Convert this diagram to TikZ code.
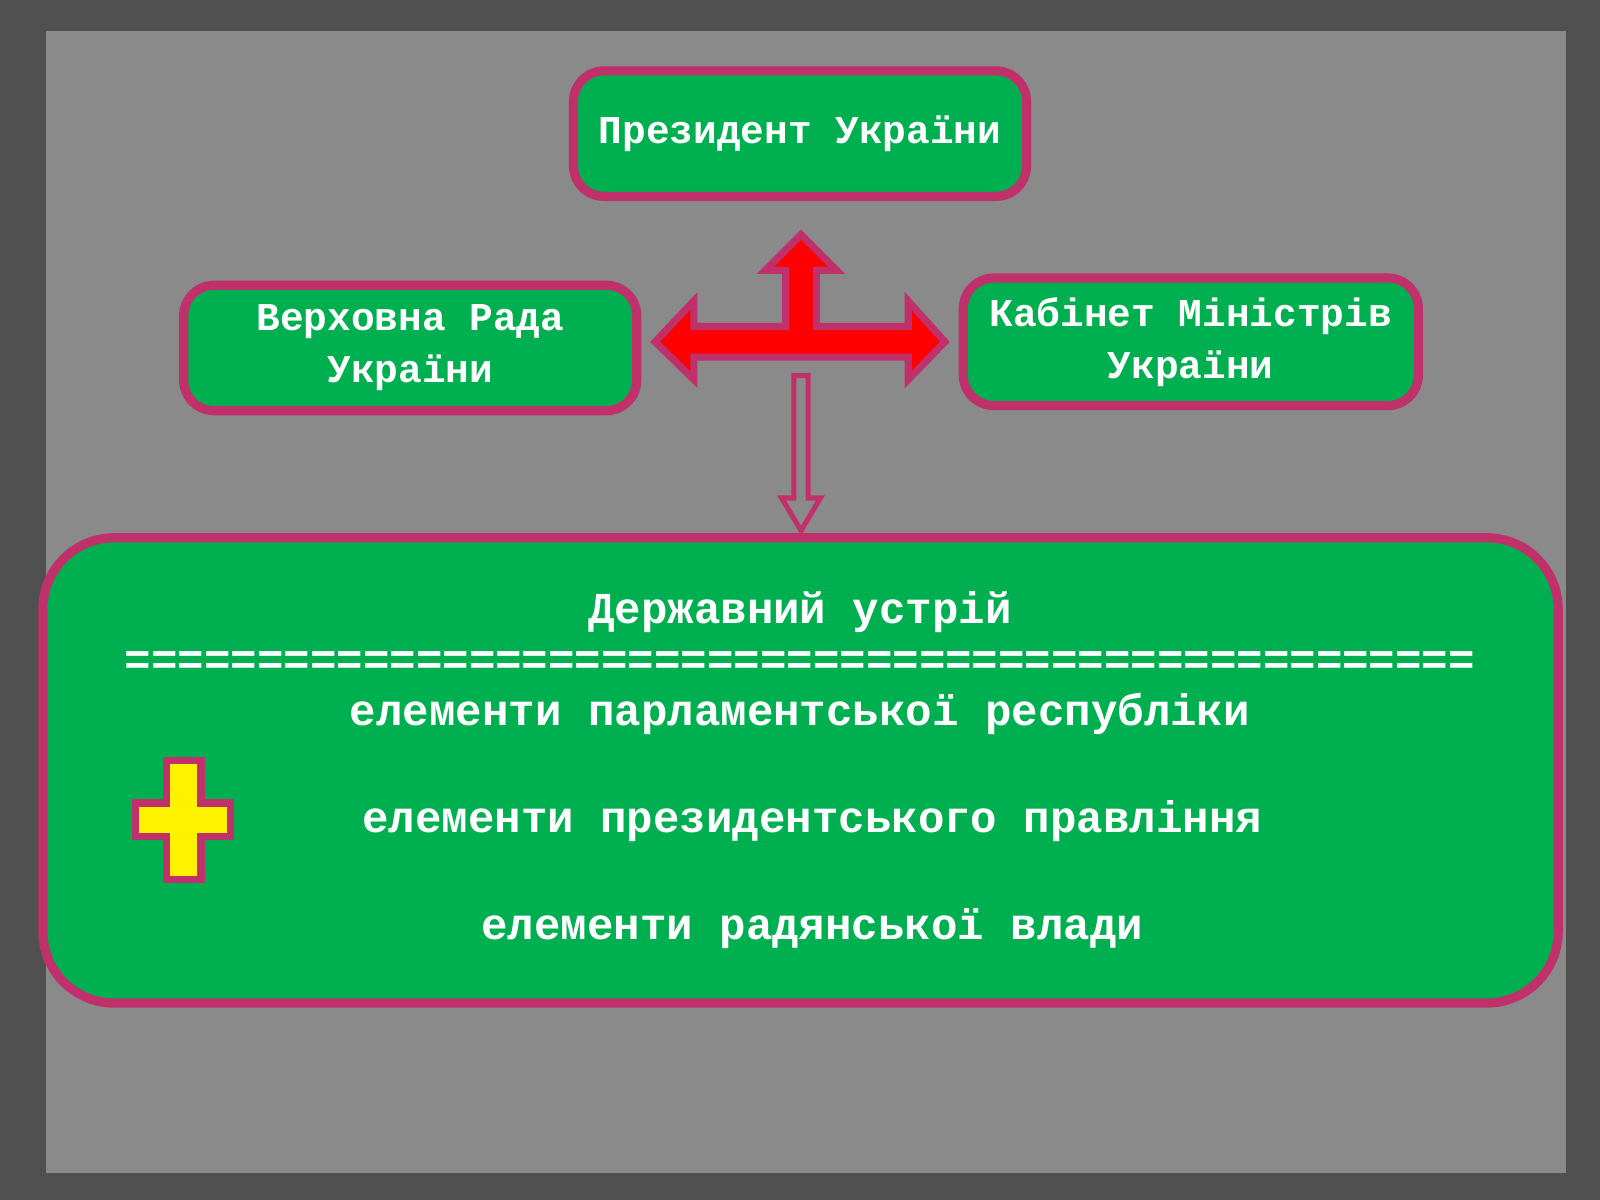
\documentclass[tikz,border=0pt]{standalone}
\usepackage{fontspec}
\setmonofont{Liberation Mono}
\usetikzlibrary{positioning, calc, shapes.geometric}
\definecolor{paper}{RGB}{138,138,138}
\definecolor{frame}{RGB}{80,80,80}
\definecolor{boxgreen}{RGB}{0,176,80}
\definecolor{boxrim}{RGB}{192,48,106}
\tikzstyle{Box} = [
draw=boxrim,
line width=0.9mm,
fill=boxgreen,
rounded corners=3mm,
text=white,
font=\ttfamily\bfseries\fontsize{11}{14.5}\selectfont,
align=center]
\tikzstyle{Line} = [
text=white,
font=\ttfamily\bfseries\fontsize{12.3}{16}\selectfont]
\begin{document}
\begin{tikzpicture}[y=-1cm]
    \fill[frame] (0,0) rectangle (15.68,11.76);
    \fill[paper] (0.45,0.3) rectangle (15.35,11.5);
    \useasboundingbox (0,0) rectangle (15.68,11.76);

    \node[Box, minimum width=4.44cm, minimum height=1.23cm] (pres) at (7.84,1.31) {Президент України};
    \node[Box, minimum width=4.44cm, minimum height=1.23cm] (rada) at (4.02,3.41) {Верховна Рада\\України};
    \node[Box, minimum width=4.46cm, minimum height=1.25cm] (kab) at (11.67,3.35) {Кабінет Міністрів\\України};
    \node[Box, rounded corners=7mm, minimum width=14.85cm, minimum height=4.56cm] (state) at (7.845,7.55) {};

    % red cross arrow
    \draw[boxrim, line width=0.7mm, fill=red]
        (6.42,3.35) -- (6.8,2.95) -- (6.8,3.2) -- (7.7,3.2) -- (7.7,2.65) -- (7.5,2.65)
        -- (7.85,2.3) -- (8.2,2.65) -- (8.0,2.65) -- (8.0,3.2) -- (8.9,3.2) -- (8.9,2.95)
        -- (9.26,3.35) -- (8.9,3.72) -- (8.9,3.5) -- (6.8,3.5) -- (6.8,3.72) -- cycle;
    % down arrow
    \coordinate (top) at (7.85,3.68);
    \draw[boxrim, line width=0.5mm, fill=paper]
        ($(top)+(-0.07,0)$) -- ($(top)+(0.07,0)$) -- ++(0,1.2) -- ++(0.12,0)
        -- (7.85,5.2) -- ++(-0.19,-0.32) -- ++(0.12,0) -- cycle;

    \node[Line] (title) at (7.84,6.0) {Державний устрій};
    \node[Line] (rule) at (7.84,6.5) {===================================================};
    \node[Line] (parl) at (7.84,7.0) {елементи парламентської республіки};
    \node[Line] (presr) at (7.96,8.05) {елементи президентського правління};
    \node[Line] (sov) at (7.96,9.1) {елементи радянської влади};

    % yellow plus
    \draw[boxrim, line width=0.7mm, fill=yellow]
        (1.63,7.45) -- (1.97,7.45) -- (1.97,7.87) -- (2.26,7.87) -- (2.26,8.2) -- (1.97,8.2)
        -- (1.97,8.62) -- (1.63,8.62) -- (1.63,8.2) -- (1.33,8.2) -- (1.33,7.87) -- (1.63,7.87) -- cycle;
\end{tikzpicture}
\end{document}
